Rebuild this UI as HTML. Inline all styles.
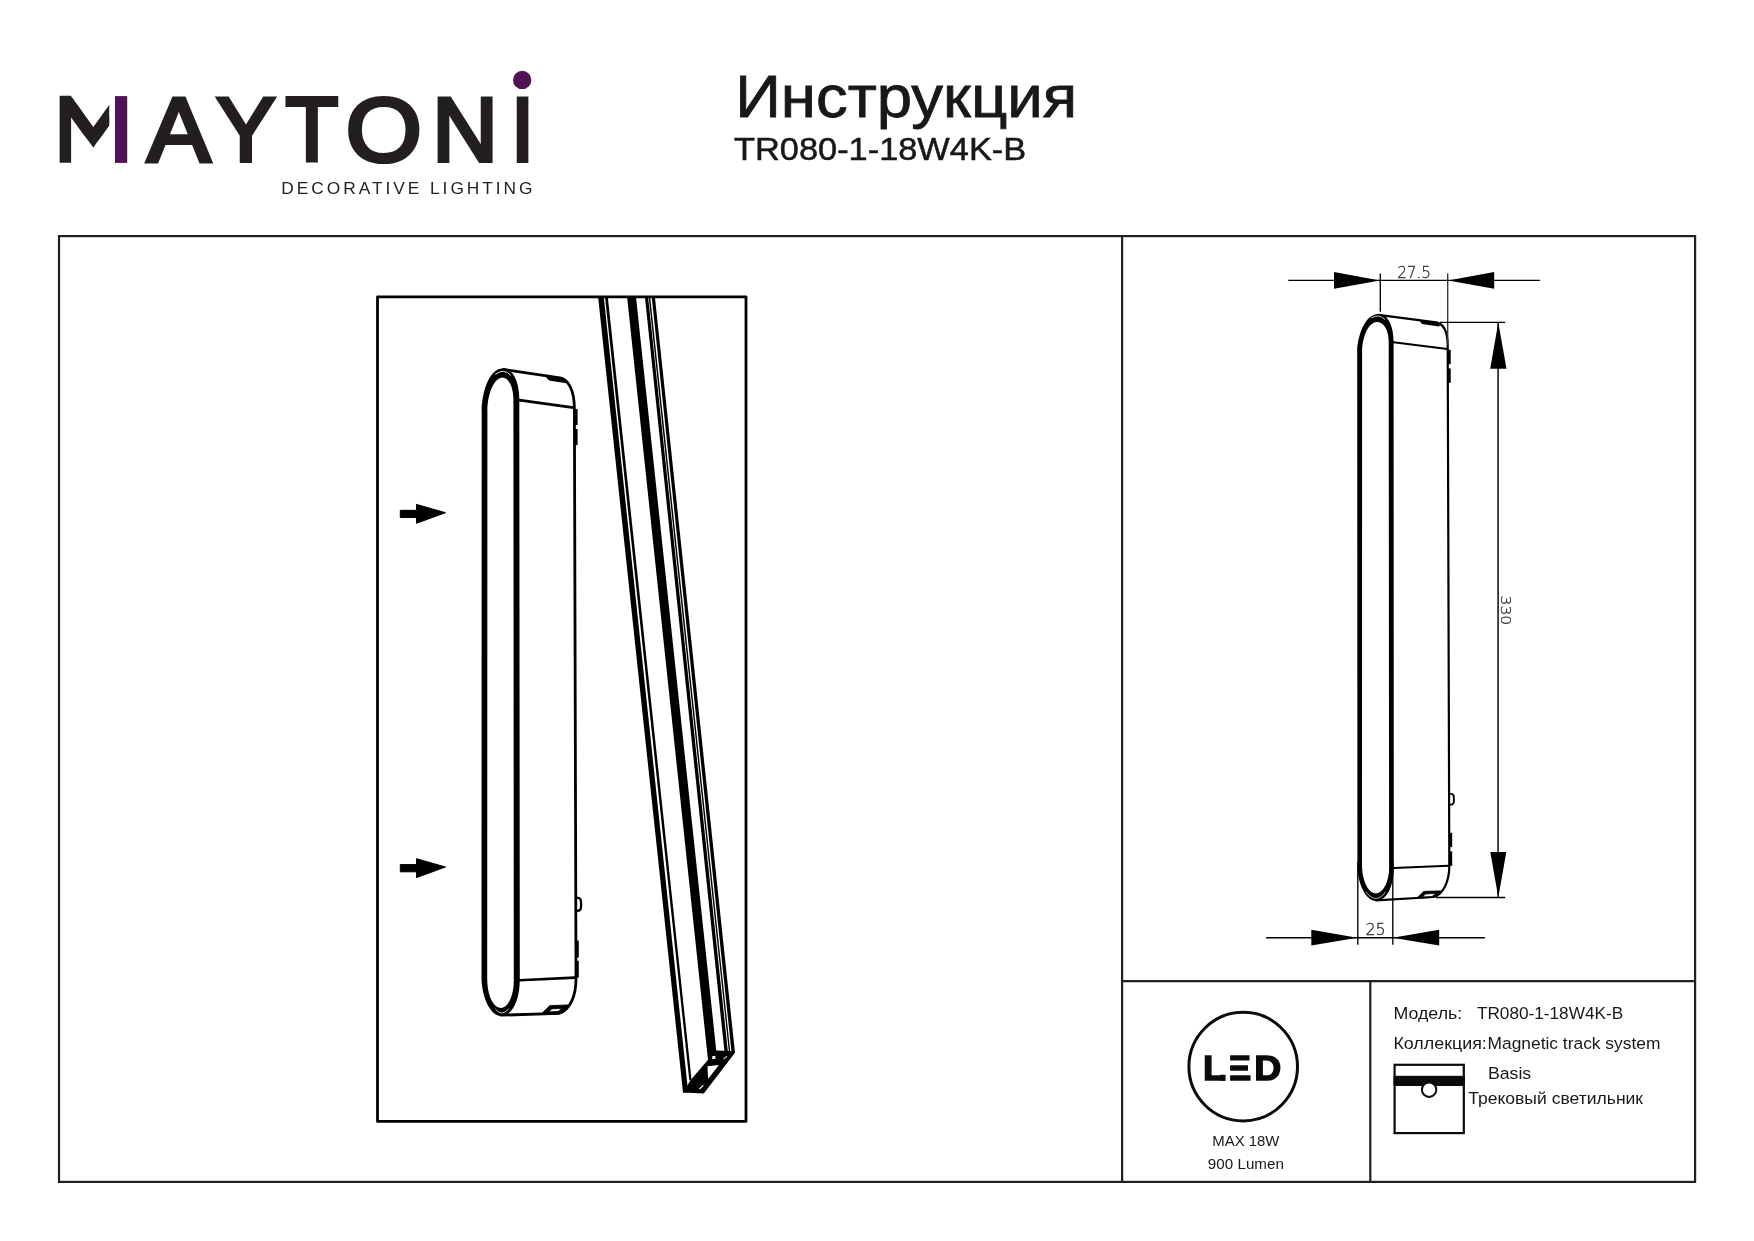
<!DOCTYPE html>
<html lang="ru">
<head>
<meta charset="utf-8">
<title>Инструкция TR080-1-18W4K-B</title>
<style>
html,body{margin:0;padding:0;background:#fff;}
body{width:1754px;height:1241px;position:relative;overflow:hidden;font-family:"Liberation Sans",sans-serif;color:#1a1718;}
svg{position:absolute;left:0;top:0;display:block;will-change:transform;}
</style>
</head>
<body>
<svg id="art" width="1754" height="1241" viewBox="0 0 1754 1241">
<g id="frame" fill="none" stroke="#231f20" stroke-width="2.2">
<rect x="59" y="236.1" width="1636.1" height="945.8"/>
<line x1="1122.1" y1="236.1" x2="1122.1" y2="1181.9"/>
<line x1="1122.1" y1="981.1" x2="1695.1" y2="981.1"/>
<line x1="1370.3" y1="981.1" x2="1370.3" y2="1181.9"/>
</g>
<rect id="illbox" x="377.5" y="296.8" width="368.5" height="824.6" fill="none" stroke="#000" stroke-width="2.8" stroke-linejoin="round"/>
<g id="logo" aria-label="MAYTONI decorative lighting">
<text font-size="90.3" font-family="'Liberation Sans',sans-serif" fill="#231f20" stroke="#231f20" stroke-width="4.2" stroke-linejoin="miter"><tspan x="54.72" y="160.3" textLength="78.92" lengthAdjust="spacingAndGlyphs" font-size="88.6" stroke-width="5.4">M</tspan><tspan x="147.34" y="160.9" textLength="62.97" lengthAdjust="spacingAndGlyphs" >A</tspan><tspan x="216.48" y="160.9" textLength="58.90" lengthAdjust="spacingAndGlyphs" >Y</tspan><tspan x="285.40" y="160.9" textLength="52.76" lengthAdjust="spacingAndGlyphs" >T</tspan><tspan x="345.74" y="160.9" textLength="76.00" lengthAdjust="spacingAndGlyphs" >O</tspan><tspan x="432.16" y="160.9" textLength="65.69" lengthAdjust="spacingAndGlyphs" >N</tspan><tspan x="511.06" y="160.9" textLength="23.16" lengthAdjust="spacingAndGlyphs" >I</tspan></text>
<rect x="71.1" y="88" width="62" height="82" fill="#fff"/>
<clipPath id="mc2"><path d="M70.5,95.4 L93.3,126.9 L109.2,105.2 L109.2,125.4 L93.3,147.4 L70.5,116.8 Z"/></clipPath>
<g clip-path="url(#mc2)" aria-hidden="true"><g transform="translate(0,96.1) scale(1,0.82) translate(0,-96.1)"><text x="49.52" y="160.9" font-size="90.3" font-family="'Liberation Sans',sans-serif" font-weight="bold" fill="#231f20" textLength="87.21" lengthAdjust="spacingAndGlyphs" stroke="#231f20" stroke-width="6" stroke-linejoin="miter"  >M</text></g></g>
<rect x="115" y="96.1" width="12.2" height="66.8" fill="#4f1254"/>
<circle cx="522.2" cy="79.9" r="9.2" fill="#4f1254"/>
<text x="281.28" y="194.1" font-size="17" font-family="'Liberation Sans',sans-serif" font-weight="normal" fill="#262223" textLength="254.28" lengthAdjust="spacingAndGlyphs" letter-spacing="2.9" >DECORATIVE LIGHTING</text>
</g>
<g id="title">
<text x="735.22" y="117.45" font-size="59.3" font-family="'Liberation Sans',sans-serif" font-weight="normal" fill="#1a1718" textLength="341.90" lengthAdjust="spacingAndGlyphs" stroke="#1a1718" stroke-width="0.8" stroke-linejoin="miter"  >Инструкция</text>
<text x="734.00" y="159.95" font-size="32.0" font-family="'Liberation Sans',sans-serif" font-weight="normal" fill="#1a1718" textLength="292.17" lengthAdjust="spacingAndGlyphs" stroke="#1a1718" stroke-width="0.5" stroke-linejoin="miter"  >TR080-1-18W4K-B</text>
</g>
<g id="lamp1" fill="none" stroke="#000" stroke-linecap="round" stroke-linejoin="round">
<path fill="#000" stroke="none" fill-rule="evenodd" d="M481.7,410.7 C481.7,396 487.5,368.8 503.3,368.3 C512.5,368.3 519.3,381 519.3,399.3 L519.8,979 C519.8,1001 512,1016 501,1016 C491,1016 481.5,998 481.5,976.7 Z M487.4,410.7 C487.4,398 492,379 502.2,377.6 C509,377.6 513.4,388 513.4,399.3 L513.8,980.3 C513.8,996 508,1007.9 501,1007.9 C493.5,1007.9 487.2,996 487.2,978 Z"/>
<path stroke-width="2.8" d="M503.3,369.5 L560,377.8 C568,379 574.3,390 574.4,408.4 L576,979 C576,995 570.5,1010 559,1013.4 L501,1015.2"/>
<path fill="#000" stroke="none" d="M544.4,375.2 L562.6,377.9 L567.2,381.6 L566,383.2 L549,380.6 Z"/>
<path stroke-width="2.8" d="M519.3,400.1 L573.5,407.7"/>
<path stroke-width="2.6" d="M519.8,980.3 L574.8,977.6"/>
<path stroke="#fff" stroke-width="0.9" d="M495.5,374.2 Q499.5,371.2 503.3,371.3 Q507.5,371.6 510.6,375.2"/>
<path fill="#000" stroke="#000" stroke-width="0.8" fill-rule="evenodd" d="M541.2,1014 L549.9,1005.6 L568.4,1004.9 C566,1009 563,1012 559.5,1013.6 Z M548.9,1011.8 L551.7,1008.9 L562,1008.3 L558.3,1011.2 Z"/>
<path stroke="#fff" stroke-width="0.8" d="M495.6,1009.2 Q498.5,1012.9 501.6,1013.1 Q505,1012.9 508.4,1009.2"/>
<path stroke-width="2.3" d="M576,897.6 C581.4,897.6 581.1,900.5 581.1,904.4 C581.1,908.5 581.3,911 576,911"/>
<g fill="#000" stroke="none">
<rect x="574.2" y="409" width="3.4" height="16"/>
<rect x="574.2" y="429" width="3.4" height="16"/>
<rect x="575.6" y="940.6" width="3.2" height="17"/>
<rect x="575.6" y="960.8" width="3.2" height="16.8"/>
</g>
</g>
<g id="track" fill="#000" stroke="none">
<path d="M598.1,297 L603.8,297 L688.2,1092.6 L683,1092.6 Z"/>
<path d="M605,297 L607.8,297 L691.6,1080.2 L689.3,1080.2 Z"/>
<path d="M627.1,297 L636,297 L716.4,1052 L708,1060 Z"/>
<path d="M644.9,297 L648.1,297 L727.9,1052 L724.5,1052 Z"/>
<path d="M648.7,297 L650.2,297 L730.3,1052 L728.9,1052 Z"/>
<path d="M651.7,297 L654.9,297 L735,1052.7 L731.6,1052.7 Z"/>
<path fill-rule="evenodd" d="M690.5,1080.2 L708.7,1059 L715.9,1050.6 L731,1051 L735,1052.7 L703.8,1093.4 L683,1092.5 L687,1086 Z M707.5,1066.3 L718.9,1065 L708,1078.9 Z M712.3,1056 L715.3,1056 L715.3,1059 L712.3,1059 Z M723.2,1058.6 L726.8,1056 L727.4,1056.6 L723.8,1059.2 Z M699,1088.6 L703,1085 L703.8,1085.8 L699.8,1089.4 Z"/>
</g>
<g id="arrows" fill="#000" stroke="#000" stroke-width="1" stroke-linejoin="round">
<path d="M400.3,510.3 L416.5,510.3 L416.5,504.4 L445.5,512.7 L416.5,523.3 L416.5,517.5 L400.3,517.5 Z"/>
<path d="M400.3,510.3 L416.5,510.3 L416.5,504.4 L445.5,512.7 L416.5,523.3 L416.5,517.5 L400.3,517.5 Z" transform="translate(0,354.3)"/>
</g>
<g id="lamp2" fill="none" stroke="#000" stroke-linecap="round" stroke-linejoin="round">
<path fill="#000" stroke="none" fill-rule="evenodd" d="M1357.2,351.5 C1357.2,338 1364,314.3 1378.3,314 C1387,314 1393.6,324 1393.6,342 L1393.8,868 C1393.8,886 1387,900.8 1376,900.8 C1366,900.8 1357.4,884 1357.4,864.9 Z M1362.1,351.5 C1362.1,340 1367,322.3 1376.8,321.9 C1384,321.9 1388.7,330 1388.7,342 L1389.1,868 C1389.1,882 1383,893.3 1376,893.3 C1368,893.3 1362,880 1362,864.9 Z"/>
<path stroke-width="2.2" d="M1378.3,314.9 L1436,322.3 C1443,323.5 1447.5,331 1447.7,345 L1449.3,866 C1449.3,880 1444,894 1434,897 L1376,900.4"/>
<path fill="#000" stroke="none" d="M1418.9,320 L1436.5,322.4 L1440.2,325 L1439,326.4 L1422,324 Z"/>
<path stroke-width="2" d="M1393.5,342.2 L1447.3,349"/>
<path stroke-width="1.9" d="M1393.8,868 L1448.3,865.8"/>
<path stroke="#fff" stroke-width="0.8" d="M1371.8,317.6 Q1375.5,315.9 1378.3,316 Q1381.5,316.2 1384.6,319.2"/>
<path fill="#000" stroke="#000" stroke-width="0.6" fill-rule="evenodd" d="M1416.8,897.9 L1423.9,891.3 L1441.6,890.8 C1440,894 1437.5,896.3 1434.5,897.2 Z M1422.6,897.1 L1425.4,894.1 L1435.6,893.5 L1431.5,896.8 Z"/>
<path stroke="#fff" stroke-width="0.7" d="M1366.3,892.2 Q1370.5,898.2 1376.1,898.5 Q1381.5,898.2 1385.2,892.2"/>
<path stroke-width="1.9" d="M1449.6,793.6 C1454.2,793.6 1453.9,796 1453.9,799.3 C1453.9,803 1454,804.8 1449.6,804.8"/>
<g fill="#000" stroke="none">
<rect x="1447.7" y="349.8" width="3" height="14.4"/>
<rect x="1447.7" y="368.4" width="3" height="14.4"/>
<rect x="1449.3" y="832.8" width="2.9" height="14.3"/>
<rect x="1449.3" y="851.4" width="2.9" height="14.4"/>
</g>
</g>
<g id="dims" stroke="#000" fill="none" stroke-width="1.35">
<line x1="1288.3" y1="280.4" x2="1539.9" y2="280.4"/>
<line x1="1380.3" y1="273.4" x2="1380.3" y2="311.8"/>
<line x1="1447.7" y1="273.4" x2="1447.7" y2="345" stroke="#333"/>
<line x1="1440" y1="322.4" x2="1505.2" y2="322.4"/>
<line x1="1436.1" y1="897.5" x2="1505.2" y2="897.5"/>
<line x1="1498.1" y1="322.4" x2="1498.1" y2="897.6" stroke-width="1.8" stroke="#333"/>
<line x1="1266.1" y1="937.7" x2="1484.9" y2="937.7"/>
<line x1="1357.8" y1="862" x2="1357.8" y2="944.7"/>
<line x1="1392.8" y1="862" x2="1392.8" y2="944.7"/>
<g fill="#000" stroke="none">
<path d="M1334,272 L1380,280.4 L1334,288.8 Z"/>
<path d="M1494.2,272 L1448,280.4 L1494.2,288.8 Z"/>
<path d="M1498.3,322.4 L1490.2,368.8 L1506.5,368.8 Z"/>
<path d="M1498.3,897.4 L1490.3,851.9 L1506.3,851.9 Z"/>
<path d="M1311.3,929.8 L1357.4,937.7 L1311.3,945.6 Z"/>
<path d="M1439.2,929.8 L1392.5,937.7 L1439.2,945.6 Z"/>
</g>
</g>
<g id="dimtext">
<text x="1397.14" y="277.7" font-size="15.8" font-family="'DejaVu Sans','Liberation Sans',sans-serif" font-weight="200" fill="#2e2a2b" textLength="33.91" lengthAdjust="spacingAndGlyphs" stroke="#2e2a2b" stroke-width="0.3" stroke-linejoin="miter"  >27.5</text>
<text x="1365.46" y="934.9" font-size="15.4" font-family="'DejaVu Sans','Liberation Sans',sans-serif" font-weight="200" fill="#2e2a2b" textLength="20.29" lengthAdjust="spacingAndGlyphs" stroke="#2e2a2b" stroke-width="0.3" stroke-linejoin="miter"  >25</text>
<g transform="translate(1501.2,596.5) rotate(90)"><text x="-1.06" y="0" font-size="14.8" font-family="'DejaVu Sans','Liberation Sans',sans-serif" font-weight="200" fill="#2e2a2b" textLength="29.88" lengthAdjust="spacingAndGlyphs" stroke="#2e2a2b" stroke-width="0.3" stroke-linejoin="miter"  >330</text></g>
</g>
<g id="led">
<circle cx="1243.2" cy="1066.6" r="54.3" fill="none" stroke="#0b0a0c" stroke-width="3"/>
<text font-size="35.0" font-family="'Liberation Sans',sans-serif" font-weight="bold" fill="#0b0a0c" stroke="#0b0a0c" stroke-width="1.4" stroke-linejoin="miter"><tspan x="1202.97" y="1080.1" textLength="22.74" lengthAdjust="spacingAndGlyphs" >L</tspan><tspan x="1218.13" y="1080.1" textLength="33.48" lengthAdjust="spacingAndGlyphs" >E</tspan><tspan x="1254.16" y="1080.1" textLength="27.04" lengthAdjust="spacingAndGlyphs" >D</tspan></text>
<path d="M1225.6,1052 H1230.1 V1083 H1225.6 Z M1219,1052 H1225.7 V1074.75 H1219 Z" fill="#fff"/>
<text x="1212.31" y="1146" font-size="15" font-family="'Liberation Sans',sans-serif" font-weight="normal" fill="#1a1718" textLength="67.11" lengthAdjust="spacingAndGlyphs"  >MAX 18W</text>
<text x="1207.89" y="1169.1" font-size="15" font-family="'Liberation Sans',sans-serif" font-weight="normal" fill="#1a1718" textLength="75.99" lengthAdjust="spacingAndGlyphs"  >900 Lumen</text>
</g>
<g id="info">
<text x="1393.41" y="1019.3" font-size="16.3" font-family="'Liberation Sans',sans-serif" font-weight="normal" fill="#1a1718" textLength="68.85" lengthAdjust="spacingAndGlyphs"  >Модель:</text>
<text x="1476.90" y="1019.3" font-size="16.3" font-family="'Liberation Sans',sans-serif" font-weight="normal" fill="#1a1718" textLength="146.28" lengthAdjust="spacingAndGlyphs"  >TR080-1-18W4K-B</text>
<text x="1393.40" y="1048.9" font-size="16.3" font-family="'Liberation Sans',sans-serif" font-weight="normal" fill="#1a1718" textLength="93.43" lengthAdjust="spacingAndGlyphs"  >Коллекция:</text>
<text x="1487.53" y="1048.9" font-size="16.3" font-family="'Liberation Sans',sans-serif" font-weight="normal" fill="#1a1718" textLength="172.90" lengthAdjust="spacingAndGlyphs"  >Magnetic track system</text>
<text x="1487.91" y="1078.6" font-size="16.3" font-family="'Liberation Sans',sans-serif" font-weight="normal" fill="#1a1718" textLength="43.29" lengthAdjust="spacingAndGlyphs"  >Basis</text>
<text x="1468.20" y="1104.0" font-size="16.3" font-family="'Liberation Sans',sans-serif" font-weight="normal" fill="#1a1718" textLength="174.87" lengthAdjust="spacingAndGlyphs"  >Трековый светильник</text>
<rect x="1394.6" y="1064.8" width="69.2" height="68.3" fill="#fff" stroke="#0b0a0c" stroke-width="2.2"/>
<rect x="1393.5" y="1075.8" width="71.4" height="10.2" fill="#0b0a0c"/>
<circle cx="1429.1" cy="1089.7" r="7.2" fill="#fff" stroke="#0b0a0c" stroke-width="2"/>
</g>
</svg>
</body>
</html>
